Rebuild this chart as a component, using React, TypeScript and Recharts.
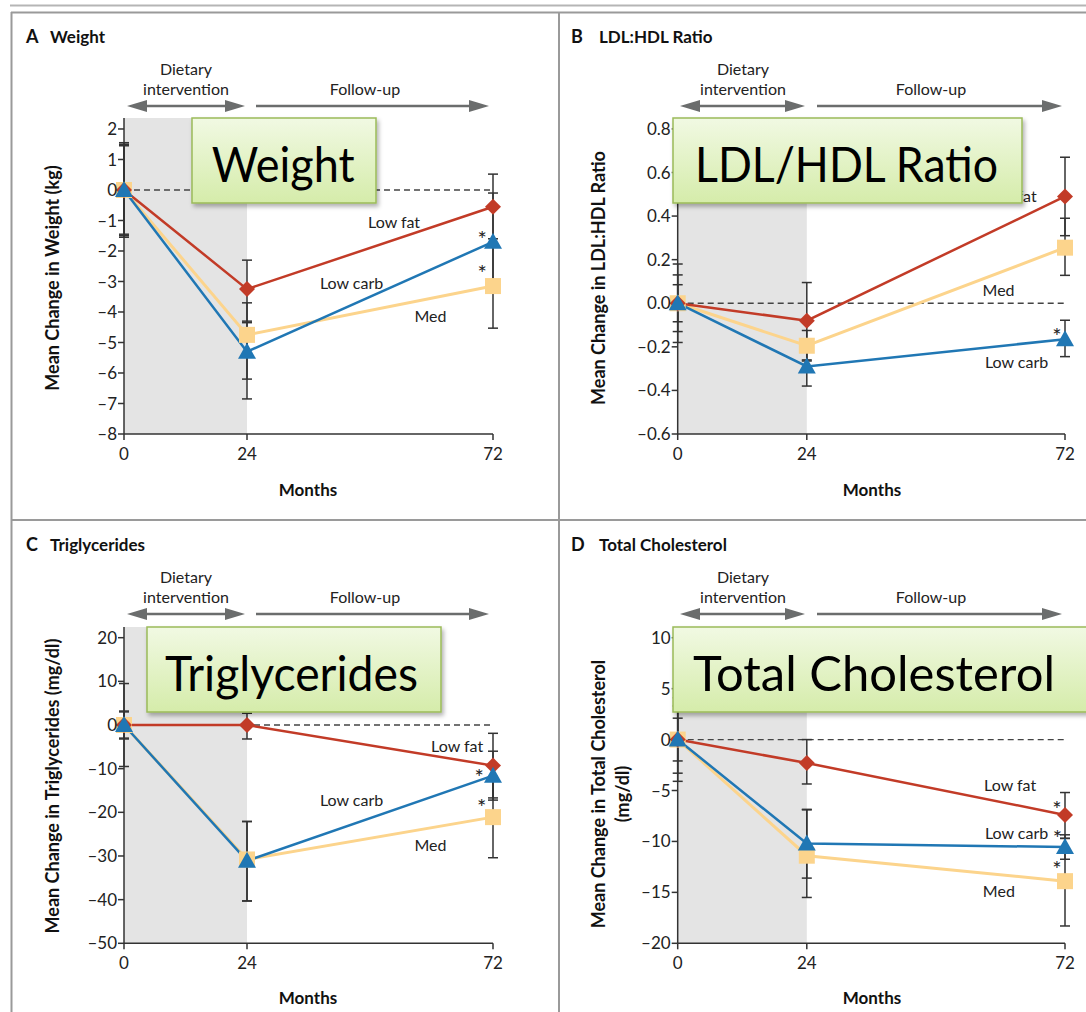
import React from 'react';
import { LineChart, Line, XAxis, YAxis, ErrorBar, ReferenceArea, ReferenceLine, ReferenceDot } from 'recharts';

const FONT = 'Lato, "Noto Sans", sans-serif';
const RED = '#c23b27';
const BLUE = '#2077b4';
const YELLOW = '#fcd48c';
const INK = '#222';
const ARROW = '#6b6d6d';

const MONTHS = [0, 24, 72];

// A  Weight (kg)
const weightLowFat = [0, -3.25, -0.55];
const weightLowCarb = [0, -5.3, -1.7];
const weightMed = [0, -4.75, -3.15];
const weightLowFatErr = [[1.45, 1.45], [1.05, 0.95], [1.05, 1.07]];
const weightLowCarbErr = [[1.5, 1.5], [0.9, 0.95], [1.6, 1.6]];
const weightMed_Err = [[1.55, 1.55], [2.1, 1.05], [1.38, 1.38]];
const weightTicks = [-8, -7, -6, -5, -4, -3, -2, -1, 0, 1, 2];

// B  LDL:HDL ratio
const ratioLowFat = [0, -0.08, 0.49];
const ratioLowCarb = [0, -0.29, -0.165];
const ratioMed = [0, -0.195, 0.255];
const ratioLowFatErr = [[0.13, 0.13], [0.18, 0.175], [0.18, 0.18]];
const ratioLowCarbErr = [[0.085, 0.085], [0.09, 0.09], [0.08, 0.087]];
const ratioMedErr = [[0.18, 0.18], [0.07, 0.07], [0.127, 0.135]];
const ratioTicks = [-0.6, -0.4, -0.2, 0, 0.2, 0.4, 0.6, 0.8];

// C  Triglycerides (mg/dl)
const trigLowFat = [0, 0, -9.3];
const trigLowCarb = [0, -31.1, -11.6];
const trigMed = [0, -30.8, -21.1];
const trigLowFatErr = [[3.2, 3.2], [3.2, 2.7], [7.4, 7.4]];
const trigLowCarbErr = [[3.0, 3.0], [9.2, 9.0], [5.6, 5.6]];
const trigMedErr = [[9.5, 9.5], [9.5, 8.7], [9.3, 9.3]];
const trigTicks = [-50, -40, -30, -20, -10, 0, 10, 20];

// D  Total cholesterol (mg/dl)
const cholLowFat = [0, -2.3, -7.4];
const cholLowCarb = [0, -10.2, -10.55];
const cholMed = [0, -11.4, -13.9];
const cholLowFatErr = [[2.1, 2.1], [2.06, 2.3], [2.3, 2.2]];
const cholLowCarbErr = [[4.1, 4.1], [3.4, 3.35], [1.2, 1.2]];
const cholMedErr = [[3.3, 3.3], [4.1, 4.5], [4.4, 4.2]];
const cholTicks = [-20, -15, -10, -5, 0, 5, 10];

const dash = (v: number, digits = 0) => {
  const s = Math.abs(v).toFixed(digits);
  return v < 0 ? '\u2013' + s : s;
};

function Marker({ cx, cy, kind, color }: any) {
  if (cx == null || cy == null) return null;
  if (kind === 'diamond') {
    return <polygon points={`${cx},${cy - 8} ${cx + 8},${cy} ${cx},${cy + 8} ${cx - 8},${cy}`} fill={color} />;
  }
  if (kind === 'triangle') {
    return <polygon points={`${cx},${cy - 9} ${cx + 9},${cy + 7} ${cx - 9},${cy + 7}`} fill={color} />;
  }
  return <rect x={cx - 8} y={cy - 8} width={16} height={16} fill={color} />;
}

const panels = [
  {
    key: 'A', left: 11, top: 12, width: 548, height: 508,
    margin: { top: 106, right: 66, bottom: 56, left: 63 },
    yDomain: [-8, 2.36], yTicks: weightTicks, fmt: (v: number) => dash(v),
    lowFat: weightLowFat, lowCarb: weightLowCarb, med: weightMed,
    lowFatErr: weightLowFatErr, lowCarbErr: weightLowCarbErr, medErr: weightMed_Err,
    notes: [
      { text: 'Low fat', x: 52.7, y: -1.05 },
      { text: 'Low carb', x: 44.4, y: -3.06 },
      { text: 'Med', x: 59.8, y: -4.15 },
      { text: '*', x: 69.9, y: -1.62 },
      { text: '*', x: 69.9, y: -2.74 },
    ],
  },
  {
    key: 'B', left: 559, top: 12, width: 527, height: 508,
    margin: { top: 106, right: 21, bottom: 56, left: 68.7 },
    yDomain: [-0.6, 0.85], yTicks: ratioTicks, fmt: (v: number) => dash(v, 1),
    lowFat: ratioLowFat, lowCarb: ratioLowCarb, med: ratioMed,
    lowFatErr: ratioLowFatErr, lowCarbErr: ratioLowCarbErr, medErr: ratioMedErr,
    notes: [
      { text: 'Low fat', x: 61.9, y: 0.49 },
      { text: 'Med', x: 59.65, y: 0.06 },
      { text: 'Low carb', x: 63.0, y: -0.27 },
      { text: '*', x: 70.5, y: -0.15 },
    ],
  },
  {
    key: 'C', left: 11, top: 520, width: 548, height: 492,
    margin: { top: 107, right: 66, bottom: 38.7, left: 63 },
    yDomain: [-50, 22.45], yTicks: trigTicks, fmt: (v: number) => dash(v),
    lowFat: trigLowFat, lowCarb: trigLowCarb, med: trigMed,
    lowFatErr: trigLowFatErr, lowCarbErr: trigLowCarbErr, medErr: trigMedErr,
    notes: [
      { text: 'Low fat', x: 65.0, y: -4.97 },
      { text: 'Low carb', x: 44.4, y: -17.2 },
      { text: 'Med', x: 59.8, y: -27.5 },
      { text: '*', x: 69.3, y: -12.0 },
      { text: '*', x: 69.8, y: -18.8 },
    ],
  },
  {
    key: 'D', left: 559, top: 520, width: 527, height: 492,
    margin: { top: 107, right: 21, bottom: 38.7, left: 68.7 },
    yDomain: [-20, 11.05], yTicks: cholTicks, fmt: (v: number) => dash(v),
    lowFat: cholLowFat, lowCarb: cholLowCarb, med: cholMed,
    lowFatErr: cholLowFatErr, lowCarbErr: cholLowCarbErr, medErr: cholMedErr,
    notes: [
      { text: 'Low fat', x: 61.8, y: -4.46 },
      { text: 'Low carb', x: 63.0, y: -9.2 },
      { text: 'Med', x: 59.7, y: -14.9 },
      { text: '*', x: 70.5, y: -6.8 },
      { text: '*', x: 70.6, y: -9.7 },
      { text: '*', x: 70.5, y: -12.7 },
    ],
  },
];

function Panel({ p }: { p: any }) {
  const rows = MONTHS.map((m, i) => ({
    month: m,
    lowFat: p.lowFat[i], lowFatErr: p.lowFatErr[i],
    lowCarb: p.lowCarb[i], lowCarbErr: p.lowCarbErr[i],
    med: p.med[i], medErr: p.medErr[i],
  }));
  const tick = { fill: INK, fontSize: 17, fontFamily: FONT };
  const err = { stroke: '#333', strokeWidth: 1.5, width: 5 };
  return (
    <div style={{ position: 'absolute', left: p.left, top: p.top }}>
      <LineChart width={p.width} height={p.height} data={rows} margin={p.margin}>
        <ReferenceArea x1={0} x2={24} fill="#e4e4e4" fillOpacity={1} stroke="none" />
        <ReferenceLine y={0} stroke="#444" strokeDasharray="6 4" strokeWidth={1.3} />
        <XAxis dataKey="month" type="number" domain={[0, 72]} ticks={MONTHS} height={30}
          tick={tick} tickSize={6} tickMargin={8} axisLine={{ stroke: '#333', strokeWidth: 1.5 }}
          tickLine={{ stroke: '#333', strokeWidth: 1.5 }} />
        <YAxis type="number" domain={p.yDomain} ticks={p.yTicks} tickFormatter={p.fmt} width={50}
          tick={tick} tickSize={6} tickMargin={1} axisLine={{ stroke: '#333', strokeWidth: 1.5 }}
          tickLine={{ stroke: '#333', strokeWidth: 1.5 }} />
        <Line dataKey="med" stroke={YELLOW} strokeWidth={3} isAnimationActive={false} activeDot={false}
          dot={(d: any) => <Marker key={'m' + d.index} cx={d.cx} cy={d.cy} kind="square" color={YELLOW} />}>
          <ErrorBar dataKey="medErr" direction="y" {...err} />
        </Line>
        <Line dataKey="lowFat" stroke={RED} strokeWidth={2.5} isAnimationActive={false} activeDot={false}
          dot={(d: any) => <Marker key={'f' + d.index} cx={d.cx} cy={d.cy} kind="diamond" color={RED} />}>
          <ErrorBar dataKey="lowFatErr" direction="y" {...err} />
        </Line>
        <Line dataKey="lowCarb" stroke={BLUE} strokeWidth={2.5} isAnimationActive={false} activeDot={false}
          dot={(d: any) => <Marker key={'c' + d.index} cx={d.cx} cy={d.cy} kind="triangle" color={BLUE} />}>
          <ErrorBar dataKey="lowCarbErr" direction="y" {...err} />
        </Line>
        {p.notes.map((n: any, i: number) => (
          <ReferenceDot key={i} x={n.x} y={n.y} r={0} fill="none" stroke="none"
            label={{ value: n.text, position: 'center', fill: INK, fontSize: n.text === '*' ? 22 : 16, fontFamily: FONT }} />
        ))}
      </LineChart>
    </div>
  );
}

function Arrow({ x1, x2, y, both }: { x1: number; x2: number; y: number; both?: boolean }) {
  return (
    <g fill={ARROW} stroke="none">
      <line x1={both ? x1 + 10 : x1} x2={x2 - 10} y1={y} y2={y} stroke={ARROW} strokeWidth={2.5} />
      <polygon points={`${x2},${y} ${x2 - 20},${y - 6} ${x2 - 20},${y + 6}`} />
      {both && <polygon points={`${x1},${y} ${x1 + 20},${y - 6} ${x1 + 20},${y + 6}`} />}
    </g>
  );
}

function Callout({ x, y, w, h, text, tx, tw }: any) {
  return (
    <g>
      <rect x={x} y={y} width={w} height={h} fill="url(#calloutFill)" stroke="#9bbb59" strokeWidth={1.5} filter="url(#calloutShadow)" />
      <text x={tx} y={y + 64} fontFamily={FONT} fontSize={48} fill="#000" textLength={tw} lengthAdjust="spacingAndGlyphs">{text}</text>
    </g>
  );
}

function Decor({ dx, dy, title, letter, yLabel, yLabel2 }: any) {
  const left = dx === 0;
  const dietX = left ? 186 : 743;
  const followX = left ? 365 : 931;
  const ylx = left ? 52 : 598;
  const yly = 278 + dy;
  return (
    <g fontFamily={FONT}>
      <text x={left ? 26 : 571} y={43 + dy} fontSize={18} fontWeight={700} fill="#111">{letter}</text>
      <text x={left ? 50 : 599} y={43 + dy} fontSize={17} fontWeight={700} fill="#111">{title}</text>
      <text x={dietX} y={68 + dy} fontSize={16} fill={INK} textAnchor="middle" dominantBaseline="central">Dietary</text>
      <text x={dietX} y={88 + dy} fontSize={16} fill={INK} textAnchor="middle" dominantBaseline="central">intervention</text>
      <text x={followX} y={88 + dy} fontSize={16} fill={INK} textAnchor="middle" dominantBaseline="central">Follow-up</text>
      <Arrow x1={left ? 127 : 680} x2={left ? 245 : 805} y={106 + dy} both />
      <Arrow x1={left ? 256 : 817} x2={left ? 489 : 1062} y={106 + dy} />
      {yLabel2 ? (
        <>
          <text transform={`translate(${ylx},${yly + 8}) rotate(-90)`} fontSize={18} fontWeight={700} fill="#111" textAnchor="middle" dominantBaseline="central">{yLabel}</text>
          <text transform={`translate(${ylx + 24},${yly + 8}) rotate(-90)`} fontSize={18} fontWeight={700} fill="#111" textAnchor="middle" dominantBaseline="central">{yLabel2}</text>
        </>
      ) : (
        <text transform={`translate(${ylx},${yly}) rotate(-90)`} fontSize={18} fontWeight={700} fill="#111" textAnchor="middle" dominantBaseline="central">{yLabel}</text>
      )}
      <text x={left ? 308 : 872} y={489 + dy} fontSize={17} fontWeight={700} fill="#111" textAnchor="middle" dominantBaseline="central">Months</text>
    </g>
  );
}

export default function App() {
  return (
    <div style={{ position: 'absolute', left: 0, top: 0, width: 1086, height: 1012, background: '#fff', overflow: 'hidden' }}>
      {panels.map((p) => <Panel key={p.key} p={p} />)}
      <svg width={1086} height={1012} style={{ position: 'absolute', left: 0, top: 0, pointerEvents: 'none' }}>
        <defs>
          <linearGradient id="calloutFill" x1="0" y1="0" x2="0" y2="1">
            <stop offset="0%" stopColor="#f1f9e3" />
            <stop offset="100%" stopColor="#d5ecaa" />
          </linearGradient>
          <filter id="calloutShadow" x="-10%" y="-10%" width="130%" height="150%">
            <feDropShadow dx="2" dy="3" stdDeviation="2" floodColor="#000" floodOpacity="0.3" />
          </filter>
        </defs>
        <line x1={10} x2={1086} y1={5.5} y2={5.5} stroke="#b5b5b5" strokeWidth={2} />
        <line x1={11} x2={1086} y1={12.5} y2={12.5} stroke="#9a9a9a" strokeWidth={2} />
        <line x1={11} x2={1086} y1={520} y2={520} stroke="#9a9a9a" strokeWidth={2} />
        <line x1={11.5} x2={11.5} y1={12} y2={1012} stroke="#9a9a9a" strokeWidth={2} />
        <line x1={559} x2={559} y1={12} y2={1012} stroke="#9a9a9a" strokeWidth={2} />
        <Decor dx={0} dy={0} letter="A" title="Weight" yLabel="Mean Change in Weight (kg)" />
        <Decor dx={1} dy={0} letter="B" title="LDL:HDL Ratio" yLabel="Mean Change in LDL:HDL Ratio" />
        <Decor dx={0} dy={508} letter="C" title="Triglycerides" yLabel="Mean Change in Triglycerides (mg/dl)" />
        <Decor dx={1} dy={508} letter="D" title="Total Cholesterol" yLabel="Mean Change in Total Cholesterol" yLabel2="(mg/dl)" />
        <Callout x={192} y={118} w={184} h={85} text="Weight" tx={211.7} tw={143} />
        <Callout x={673} y={118} w={349} h={85} text="LDL/HDL Ratio" tx={695} tw={303} />
        <Callout x={147} y={627} w={294} h={85} text="Triglycerides" tx={165} tw={253} />
        <Callout x={673} y={627} w={420} h={85} text="Total Cholesterol" tx={693} tw={362} />
      </svg>
    </div>
  );
}
